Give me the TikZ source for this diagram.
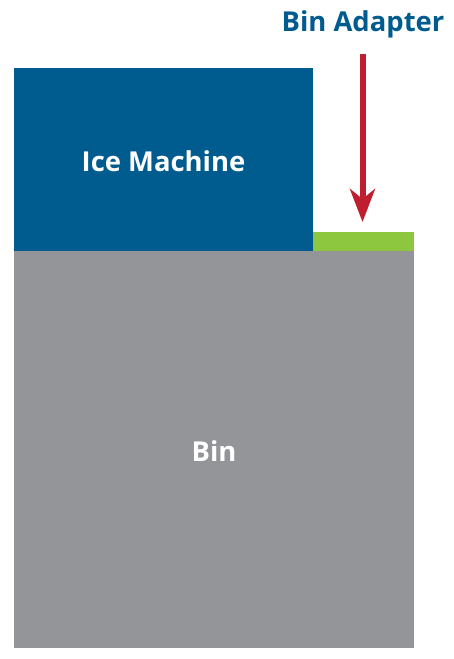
\documentclass[tikz,border=0pt]{standalone}
\usepackage{fontspec}
\setmainfont{Open Sans}
\usetikzlibrary{arrows.meta}
\definecolor{iceblue}{RGB}{0,91,143}
\definecolor{bingray}{RGB}{147,149,152}
\definecolor{adaptgreen}{RGB}{141,198,63}
\definecolor{arrowred}{RGB}{190,30,45}
\begin{document}
\begin{tikzpicture}[x=0.025cm,y=-0.025cm]
	\useasboundingbox (0,0) rectangle (454,659);
	\fill[bingray] (14,251) rectangle (414,648);
	\fill[iceblue] (14,68) rectangle (313,251);
	\fill[adaptgreen] (313,232) rectangle (414,251);
	\tikzstyle{every node}=[font=\bfseries\fontsize{19.5}{24}\selectfont];
	\path (163.5,161) node[white] (ice) {Ice Machine};
	\path (214,451) node[white] (bin) {Bin};
	\path (363,24) node[iceblue] (adapter) {Bin Adapter};
	\coordinate (atop) at (362.5,54);
	\coordinate (atip) at (362.5,222);
	\draw[arrowred,line width=6*0.025cm,-{Stealth[length=33*0.025cm,width=25*0.025cm,inset=10*0.025cm]}] (atop) -- (atip);
\end{tikzpicture}
\end{document}
